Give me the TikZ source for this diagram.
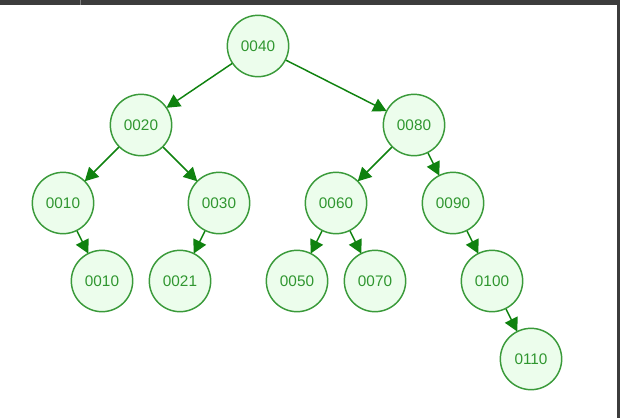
\documentclass[tikz,border=0pt]{standalone}
\usepackage{fontspec}
\setmainfont{Liberation Sans}
\usetikzlibrary{arrows.meta,positioning}

\definecolor{treeline}{HTML}{3A9A3A}
\definecolor{treefill}{HTML}{ECFDEC}
\definecolor{treetext}{HTML}{2F962F}
\definecolor{treearrow}{HTML}{0F820F}
\definecolor{frame}{HTML}{3C3C3C}

\tikzset{
	key/.style={circle,draw=treeline,fill=treefill,line width=1.1pt,
		minimum size=46pt,inner sep=0pt,text=treetext,font=\fontsize{11.5}{13}\selectfont},
	link/.style={-{Triangle[length=10pt,width=10.5pt]},draw=treearrow,line width=1.1pt,shorten >=-0.5pt}
}

\begin{document}
\begin{tikzpicture}[x=0.75pt,y=-0.75pt]
		\useasboundingbox (0,0) rectangle (620,418);
		% window frame
		\fill[frame] (0,0) rectangle (620,5);
		\fill[frame] (617,0) rectangle (619.5,418);
		\draw[gray,line width=0.6pt] (80,0) -- (80,5);
		
		\node[key] (k40) at (258,46) {0040};
		
		\node[key] (k20) at (141,125) {0020};
		\node[key] (k80) at (414,125) {0080};
		
		\node[key] (k10) at (63,203) {0010};
		\node[key] (k30) at (219,203) {0030};
		\node[key] (k60) at (336,203) {0060};
		\node[key] (k90) at (453,203) {0090};
		
		\node[key] (k10b) at (102,281) {0010};
		\node[key] (k21) at (180,281) {0021};
		\node[key] (k50) at (297,281) {0050};
		\node[key] (k70) at (375,281) {0070};
		\node[key] (k100) at (492,281) {0100};
		
		\node[key] (k110) at (531,359) {0110};
		
		\foreach \a/\b in {k40/k20,k40/k80,k20/k10,k20/k30,k80/k60,k80/k90,
			k10/k10b,k30/k21,k60/k50,k60/k70,k90/k100,k100/k110}
			\draw[link] (\a) -- (\b);
		
	\end{tikzpicture}
\end{document}
